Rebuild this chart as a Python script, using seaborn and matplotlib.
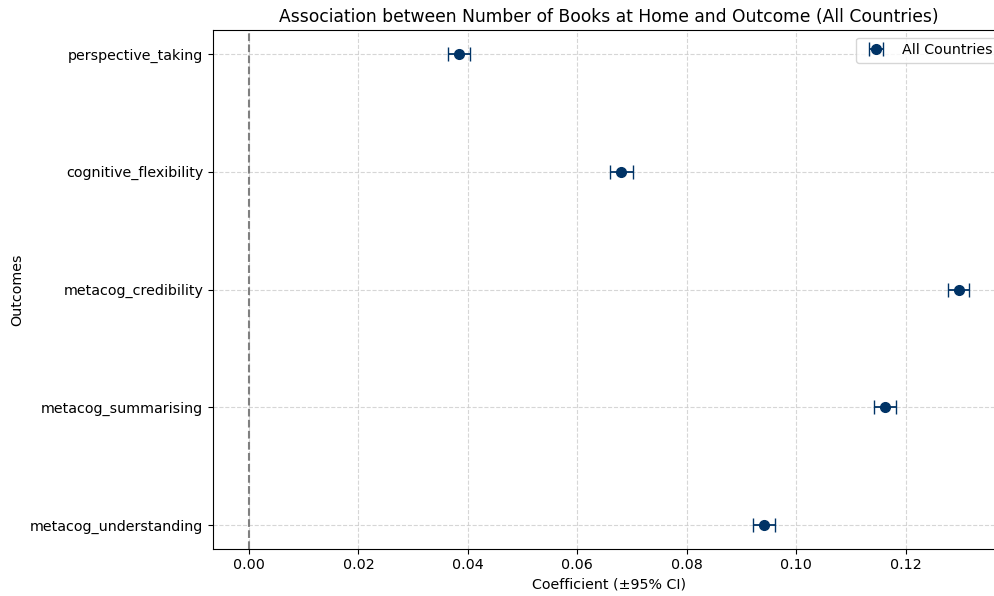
import matplotlib
matplotlib.use("Agg")
import matplotlib.pyplot as plt
import seaborn as sns
import pandas as pd

outcomes = ["perspective_taking", "cognitive_flexibility", "metacog_credibility",
            "metacog_summarising", "metacog_understanding"]
coefs = [0.0384, 0.0680, 0.1297, 0.1162, 0.0942]
ci_half = [0.0020, 0.0021, 0.0019, 0.0020, 0.0020]

df = pd.DataFrame({"outcome": outcomes, "coef": coefs, "err": ci_half})
# plot top-to-bottom in the listed order
df = df.iloc[::-1].reset_index(drop=True)

sns.set_style("white")
plt.rcParams["font.family"] = ["DejaVu Sans"]
plt.rcParams.update({"text.color": "black", "axes.labelcolor": "black",
                     "xtick.color": "black", "ytick.color": "black"})

fig = plt.figure(figsize=(9.95, 5.96), dpi=100)
ax = fig.add_axes([0.2141, 0.0795, 0.796, 0.8695])

ax.errorbar(df["coef"], df["outcome"], xerr=df["err"], fmt="o", color="#003366",
            ecolor="#003366", capsize=5, markersize=7, elinewidth=1.3,
            label="All Countries", zorder=3)
ax.axvline(0, color="gray", linestyle="--", linewidth=1.5, zorder=2)

ax.grid(True, linestyle="--", color="#cccccc", alpha=0.8, linewidth=0.8)
ax.set_axisbelow(True)
ax.set_xticks([0.00, 0.02, 0.04, 0.06, 0.08, 0.10, 0.12])
ax.set_xticklabels(["0.00", "0.02", "0.04", "0.06", "0.08", "0.10", "0.12"])
ax.tick_params(axis="both", which="major", length=3.5, width=0.8, labelsize=10.3,
               direction="out", bottom=True, left=True, colors="black")
for s in ax.spines.values():
    s.set_color("black")
    s.set_linewidth(0.8)

ax.set_xlabel("Coefficient (±95% CI)", fontsize=10.3)
ax.set_ylabel("Outcomes", fontsize=10.3)
ax.set_title("Association between Number of Books at Home and Outcome (All Countries)",
             fontsize=12.3)
ax.legend(loc="upper right", frameon=True, fontsize=10.3)

fig.savefig("out.png", dpi=100)
